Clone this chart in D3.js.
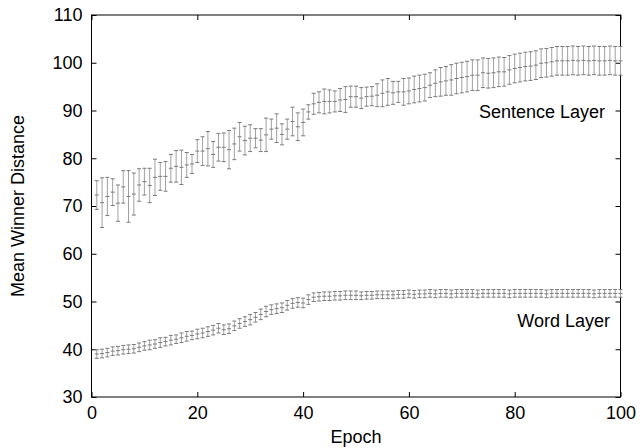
<!DOCTYPE html>
<html>
<head>
<meta charset="utf-8">
<script src="https://cdn.jsdelivr.net/npm/d3@7"></script>
<style>
  html, body { margin: 0; padding: 0; background: #fff; }
  svg { display: block; }
  text { font-family: "Liberation Sans", Arial, Helvetica, sans-serif; fill: #000; }
</style>
</head>
<body>
<svg id="chart" width="642" height="448"></svg>
<script>
// ---- Data ----
const epochs = d3.range(1, 101);

const sentenceMean = [
  72.3, 70.7, 72.0, 72.9, 70.6, 74.0, 72.0, 72.5, 74.4, 75.1,
  74.3, 76.0, 76.2, 76.2, 77.9, 78.3, 78.1, 78.6, 78.8, 81.5,
  81.5, 82.0, 80.8, 82.3, 82.3, 81.8, 83.0, 84.5, 83.7, 84.2,
  84.2, 83.8, 84.9, 86.1, 86.3, 85.0, 86.1, 87.7, 86.6, 87.5,
  89.7, 91.4, 91.7, 91.9, 91.9, 91.9, 92.2, 92.3, 92.9, 92.9,
  92.6, 92.9, 93.0, 93.2, 93.6, 93.9, 93.7, 93.9, 93.9, 94.1,
  94.4, 94.6, 94.8, 95.3, 95.7, 96.0, 96.2, 96.4, 96.7, 96.9,
  97.1, 97.4, 97.4, 97.9, 97.8, 97.9, 98.1, 98.1, 98.5, 98.8,
  99.0, 99.2, 99.3, 99.5, 99.9, 100.0, 100.2, 100.4, 100.4, 100.4,
  100.5, 100.4, 100.5, 100.4, 100.5, 100.4, 100.4, 100.5, 100.4, 100.4
];
const sentenceErr = [
  3.0, 5.2, 4.0, 2.8, 3.8, 3.4, 5.4, 4.4, 3.4, 2.8,
  3.6, 3.8, 2.9, 3.1, 2.9, 3.3, 3.6, 2.6, 2.0, 2.4,
  3.0, 3.6, 2.7, 2.9, 3.0, 4.0, 3.3, 3.0, 3.0, 2.8,
  2.0, 2.4, 3.5, 2.1, 3.0, 2.2, 2.1, 3.0, 2.9, 2.8,
  1.5, 2.2, 2.2, 2.6, 2.4, 2.2, 2.4, 2.7, 2.2, 2.2,
  2.2, 2.0, 2.0, 2.4, 2.8, 2.8, 2.4, 2.2, 2.8, 2.7,
  2.8, 2.8, 2.8, 2.6, 2.8, 3.0, 3.0, 3.2, 3.2, 3.2,
  3.2, 3.2, 3.2, 3.1, 3.1, 3.1, 3.1, 3.0, 3.0, 3.0,
  3.0, 3.0, 3.0, 3.0, 3.0, 3.0, 3.0, 3.0, 3.0, 3.0,
  3.0, 3.0, 3.0, 3.0, 3.0, 3.0, 3.0, 3.0, 3.0, 3.0
];

const wordMean = [
  39.0, 39.1, 39.3, 39.6, 39.7, 39.9, 40.0, 40.1, 40.4, 40.7,
  40.9, 41.1, 41.4, 41.6, 41.9, 42.1, 42.4, 42.7, 42.9, 43.2,
  43.4, 43.7, 44.0, 44.4, 44.1, 44.3, 44.9, 45.4, 45.8, 46.2,
  46.7, 47.3, 47.9, 48.3, 48.5, 48.7, 49.2, 49.6, 49.8, 49.7,
  50.4, 50.9, 51.0, 51.1, 51.1, 51.2, 51.2, 51.3, 51.3, 51.3,
  51.2, 51.3, 51.3, 51.4, 51.4, 51.4, 51.4, 51.5, 51.5, 51.6,
  51.5, 51.6, 51.6, 51.7, 51.6, 51.7, 51.7, 51.6, 51.7, 51.7,
  51.7, 51.7, 51.6, 51.7, 51.7, 51.7, 51.7, 51.7, 51.6, 51.7,
  51.7, 51.7, 51.7, 51.7, 51.7, 51.6, 51.7, 51.7, 51.7, 51.7,
  51.7, 51.7, 51.7, 51.7, 51.6, 51.7, 51.7, 51.7, 51.7, 51.7
];
const wordErr = [
  0.9, 0.9, 0.9, 0.9, 0.9, 0.9, 0.9, 0.9, 0.9, 0.9,
  1.0, 0.9, 1.0, 0.9, 1.0, 0.9, 1.0, 1.0, 0.9, 1.0,
  1.0, 1.0, 1.0, 1.0, 1.0, 1.0, 1.0, 1.0, 1.0, 1.1,
  1.0, 1.1, 1.1, 1.0, 1.0, 1.0, 1.0, 1.0, 1.0, 1.0,
  1.0, 0.9, 0.9, 0.9, 0.9, 0.9, 0.9, 0.9, 0.9, 0.9,
  0.8, 0.8, 0.8, 0.8, 0.8, 0.8, 0.8, 0.8, 0.8, 0.8,
  0.8, 0.8, 0.8, 0.8, 0.8, 0.8, 0.8, 0.8, 0.8, 0.8,
  0.8, 0.8, 0.8, 0.8, 0.8, 0.8, 0.8, 0.8, 0.8, 0.8,
  0.8, 0.8, 0.8, 0.8, 0.8, 0.8, 0.8, 0.8, 0.8, 0.8,
  0.8, 0.8, 0.8, 0.8, 0.8, 0.8, 0.8, 0.8, 0.8, 0.8
];

const xTicks = [0, 20, 40, 60, 80, 100];
const yTicks = [30, 40, 50, 60, 70, 80, 90, 100, 110];
const seriesLabels = ["Sentence Layer", "Word Layer"];
const xTitle = "Epoch";
const yTitle = "Mean Winner Distance";

(function () {
  // ---- Layout ----
  const pL = 91.5, pR = 620.5, pT = 15, pB = 397;
  const svg = d3.select("#chart");

  const x = d3.scaleLinear().domain([0, 100]).range([pL, pR]);
  const y = d3.scaleLinear().domain([30, 110]).range([pB, pT]);

  const FS = 18;
  const tk = 5;

  const gx = svg.append("g").attr("transform", `translate(0,${pB})`)
    .call(d3.axisBottom(x).tickValues(xTicks).tickSize(-tk).tickSizeOuter(0).tickPadding(9));
  const gy = svg.append("g").attr("transform", `translate(${pL},0)`)
    .call(d3.axisLeft(y).tickValues(yTicks).tickSize(-tk).tickSizeOuter(0).tickPadding(9));
  const gxt = svg.append("g").attr("transform", `translate(0,${pT})`)
    .call(d3.axisTop(x).tickValues(xTicks).tickSize(-tk).tickSizeOuter(0).tickFormat(""));
  const gyr = svg.append("g").attr("transform", `translate(${pR},0)`)
    .call(d3.axisRight(y).tickValues(yTicks).tickSize(-tk).tickSizeOuter(0).tickFormat(""));
  [gx, gy, gxt, gyr].forEach(g => {
    g.select(".domain").remove();
    g.selectAll("line").attr("stroke", "#000").attr("stroke-width", 1);
    g.selectAll("text").attr("font-size", FS).attr("font-family", '"Liberation Sans", Arial, sans-serif').attr("fill", "#000");
  });

  svg.append("rect")
    .attr("x", pL).attr("y", pT)
    .attr("width", pR - pL).attr("height", pB - pT)
    .attr("fill", "none").attr("stroke", "#000").attr("stroke-width", 1);

  function drawSeries(means, errs) {
    const data = epochs.map((e, i) => ({ e, m: means[i], s: errs[i] }));
    const g = svg.append("g");
    const cap = 2;
    const bar = g.selectAll("g.eb").data(data).join("g").attr("class", "eb");
    bar.append("line")
      .attr("x1", d => x(d.e)).attr("x2", d => x(d.e))
      .attr("y1", d => y(d.m - d.s)).attr("y2", d => y(d.m + d.s))
      .attr("stroke", "#a0a0a0").attr("stroke-width", 1);
    bar.append("line")
      .attr("x1", d => x(d.e) - cap).attr("x2", d => x(d.e) + cap)
      .attr("y1", d => y(d.m + d.s)).attr("y2", d => y(d.m + d.s))
      .attr("stroke", "#7a7a7a").attr("stroke-width", 1);
    bar.append("line")
      .attr("x1", d => x(d.e) - cap).attr("x2", d => x(d.e) + cap)
      .attr("y1", d => y(d.m - d.s)).attr("y2", d => y(d.m - d.s))
      .attr("stroke", "#7a7a7a").attr("stroke-width", 1);
    bar.append("line")
      .attr("x1", d => x(d.e) - 2).attr("x2", d => x(d.e) + 2)
      .attr("y1", d => y(d.m)).attr("y2", d => y(d.m))
      .attr("stroke", "#7a7a7a").attr("stroke-width", 1);
  }
  drawSeries(sentenceMean, sentenceErr);
  drawSeries(wordMean, wordErr);

  svg.append("text").attr("x", 605).attr("y", 117.5).attr("text-anchor", "end")
    .attr("font-size", FS).text(seriesLabels[0]);
  svg.append("text").attr("x", 610).attr("y", 326.5).attr("text-anchor", "end")
    .attr("font-size", FS).text(seriesLabels[1]);

  svg.append("text").attr("x", (pL + pR) / 2).attr("y", 443)
    .attr("text-anchor", "middle").attr("font-size", FS).text(xTitle);
  svg.append("text")
    .attr("transform", `translate(24,${(pT + pB) / 2}) rotate(-90)`)
    .attr("text-anchor", "middle").attr("font-size", FS).text(yTitle);
})();
</script>
</body>
</html>
